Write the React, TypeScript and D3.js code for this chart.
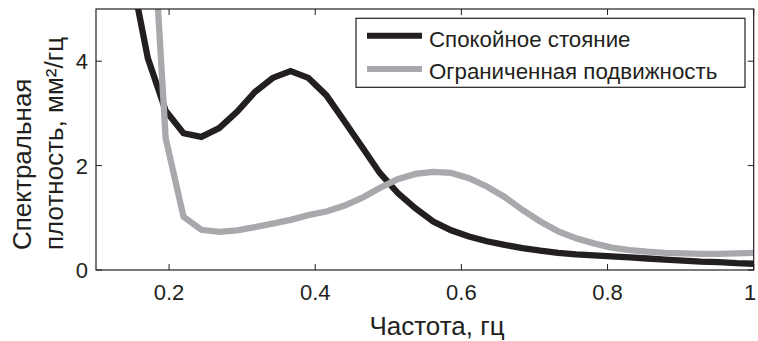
import React from "react";
import * as d3 from "d3";

const STEP = 0.0244140625;
const binIndex = [5, 6, 7, 8, 9, 10, 11, 12, 13, 14, 15, 16, 17, 18, 19, 20, 21, 22, 23, 24, 25, 26, 27, 28, 29, 30, 31, 32, 33, 34, 35, 36, 37, 38, 39, 40, 41];
const frequencies = binIndex.map((k) => k * STEP);

const quietStanding = [8.0, 5.8, 4.06, 3.05, 2.62, 2.55, 2.72, 3.03, 3.41, 3.68, 3.81, 3.68, 3.35, 2.86, 2.36, 1.86, 1.48, 1.18, 0.93, 0.76, 0.64, 0.55, 0.48, 0.42, 0.37, 0.33, 0.3, 0.28, 0.26, 0.24, 0.22, 0.2, 0.18, 0.16, 0.15, 0.13, 0.12];
const limitedMobility = [30.0, 20.0, 8.3, 2.53, 1.02, 0.77, 0.73, 0.76, 0.82, 0.89, 0.96, 1.05, 1.12, 1.23, 1.38, 1.57, 1.74, 1.84, 1.88, 1.86, 1.76, 1.6, 1.4, 1.15, 0.93, 0.74, 0.61, 0.51, 0.43, 0.38, 0.35, 0.33, 0.32, 0.31, 0.31, 0.32, 0.33];

const seriesNames = ["Спокойное стояние", "Ограниченная подвижность"];
const seriesColors = ["#231f20", "#a7a9ac"];
const xTicks = [0.2, 0.4, 0.6, 0.8, 1];
const yTicks = [0, 2, 4];
const xTitle = "Частота, гц";
const yTitleLines = ["Спектральная", "плотность, мм²/гц"];

const W = 758;
const H = 341;
const L = 96;
const R = 753.7;
const T = 9;
const B = 270;
const FONT = "'Liberation Sans', Arial, Helvetica, sans-serif";
const INK = "#231f20";

export default function App() {
  const x = d3.scaleLinear().domain([0.1, 1]).range([L, R]);
  const y = d3.scaleLinear().domain([0, 5]).range([B, T]);
  const line = d3
    .line<number>()
    .x((_, i) => x(frequencies[i]))
    .y((d) => y(d));
  const series = [quietStanding, limitedMobility];
  const tickLen = 6;

  return (
    <div style={{ position: "fixed", left: 0, top: 0 }}>
      <svg width={W} height={H} style={{ display: "block", background: "#fff" }} fontFamily={FONT}>
        <defs>
          <clipPath id="plotClip">
            <rect x={L} y={T} width={R - L} height={B - T} />
          </clipPath>
        </defs>
        <rect x={0} y={0} width={W} height={H} fill="#fff" />
        <g clipPath="url(#plotClip)">
          {series.map((s, i) => (
            <path key={i} d={line(s) || ""} fill="none" stroke={seriesColors[i]} strokeWidth={6.3} />
          ))}
        </g>
        {/* frame */}
        <rect x={L} y={T} width={R - L} height={B - T} fill="none" stroke={INK} strokeWidth={1.2} />
        {xTicks.map((t) => (
          <g key={"x" + t}>
            <line x1={x(t)} x2={x(t)} y1={B} y2={B - tickLen} stroke={INK} strokeWidth={1} />
            <line x1={x(t)} x2={x(t)} y1={T} y2={T + tickLen} stroke={INK} strokeWidth={1} />
            <text x={Math.min(x(t), W - 8)} y={299.5} textAnchor="middle" fontSize={22} fill={INK}>
              {String(t)}
            </text>
          </g>
        ))}
        {yTicks.map((t) => (
          <g key={"y" + t}>
            <line x1={L} x2={L + tickLen} y1={y(t)} y2={y(t)} stroke={INK} strokeWidth={1} />
            <line x1={R} x2={R - tickLen} y1={y(t)} y2={y(t)} stroke={INK} strokeWidth={1} />
            <text x={88} y={y(t) + 8} textAnchor="end" fontSize={22} fill={INK}>
              {String(t)}
            </text>
          </g>
        ))}
        <text x={437} y={335} textAnchor="middle" fontSize={26} fill={INK}>
          {xTitle}
        </text>
        {yTitleLines.map((ln, i) => (
          <text
            key={ln}
            transform={`translate(${31 + i * 32},250) rotate(-90)`}
            textAnchor="start"
            fontSize={26}
            fill={INK}
          >
            {ln}
          </text>
        ))}
        {/* legend */}
        <rect x={356} y={18.3} width={389} height={69} fill="#fff" stroke={INK} strokeWidth={1.2} />
        {seriesNames.map((n, i) => (
          <g key={n}>
            <line x1={367} x2={422} y1={35.7 + i * 33.3} y2={35.7 + i * 33.3} stroke={seriesColors[i]} strokeWidth={6} />
            <text x={429} y={46.5 + i * 32} fontSize={22.3} fill={INK}>
              {n}
            </text>
          </g>
        ))}
      </svg>
    </div>
  );
}
